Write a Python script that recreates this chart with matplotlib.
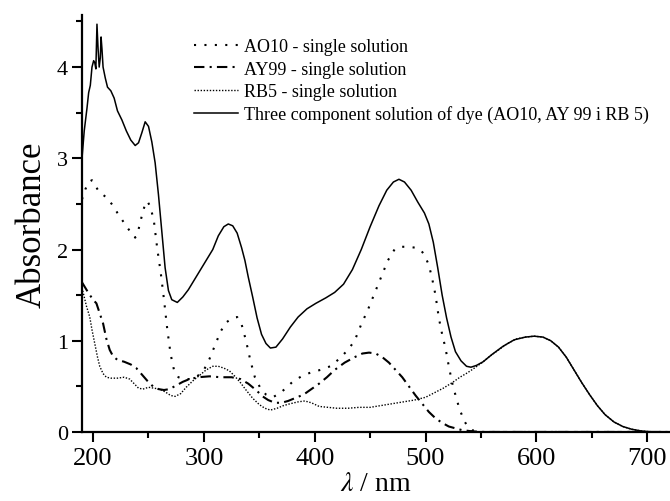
import matplotlib
matplotlib.use("Agg")
import matplotlib.pyplot as plt

plt.rcParams['font.family'] = ['Liberation Serif', 'DejaVu Serif']
plt.rcParams['mathtext.fontset'] = 'stix'

# Three component solution
mix_x = [190, 192, 194.5, 196, 197.5, 199, 200.5, 201.5, 202.5, 203.5, 204.5, 205.5, 206.5, 207.2, 208, 209,
         211, 213, 216, 219, 222, 226, 230, 234, 238, 241, 244, 247, 250, 253, 256, 259, 262, 265, 268, 271,
         276, 281, 286, 290, 298, 304, 308, 313, 318, 322, 326, 330, 334, 337, 340, 344, 348, 352, 356, 360,
         365, 371, 378, 385, 393, 401, 410, 418, 426, 434, 442, 450, 458, 465, 471, 476, 481, 487, 493, 499,
         503, 507, 511, 515, 519, 523, 527, 532, 537, 541, 546, 552, 560, 570, 580, 590, 598, 606, 613, 620,
         627, 634, 641, 648, 655, 662, 670, 678, 686, 695, 705, 720]
mix_y = [3.0, 3.3, 3.55, 3.72, 3.8, 4.0, 4.07, 4.05, 3.98, 4.47, 4.2, 4.0, 4.1, 4.33, 4.2, 4.0,
         3.88, 3.78, 3.74, 3.66, 3.52, 3.42, 3.3, 3.2, 3.14, 3.17, 3.28, 3.4, 3.35, 3.18, 2.95, 2.6, 2.2, 1.8, 1.55, 1.45,
         1.42, 1.48, 1.56, 1.64, 1.8, 1.92, 2.0, 2.15, 2.25, 2.28, 2.26, 2.18, 2.02, 1.88, 1.7, 1.48, 1.25, 1.07, 0.97, 0.92,
         0.93, 1.02, 1.15, 1.26, 1.35, 1.41, 1.47, 1.53, 1.62, 1.78, 2.0, 2.25, 2.48, 2.65, 2.74, 2.77, 2.74, 2.65, 2.52, 2.4,
         2.28, 2.08, 1.8, 1.5, 1.25, 1.04, 0.88, 0.78, 0.72, 0.71, 0.73, 0.77, 0.85, 0.94, 1.01, 1.04, 1.05, 1.04, 1.0, 0.93,
         0.82, 0.68, 0.54, 0.41, 0.29, 0.19, 0.11, 0.06, 0.03, 0.01, 0.0, 0.0]

# AO10 single solution
ao_x = [190, 193, 196, 199, 202, 205, 209, 213, 218, 222, 227, 231, 235, 238, 241, 244, 247, 249, 252, 255,
        258, 261, 264, 267, 270, 273, 277, 282, 288, 294, 300, 305, 310, 315, 320, 326, 330, 334, 338, 342,
        346, 351, 356, 362, 368, 374, 380, 388, 396, 405, 414, 422, 430, 436, 442, 448, 454, 460, 466, 472,
        477, 484, 491, 496, 499, 503, 506, 509, 512, 515, 518, 521, 524, 528, 531, 535, 538, 542, 550, 720]
ao_y = [2.55, 2.66, 2.74, 2.76, 2.7, 2.64, 2.6, 2.56, 2.48, 2.4, 2.31, 2.24, 2.17, 2.13, 2.22, 2.37, 2.5, 2.53, 2.46, 2.3,
        2.0, 1.75, 1.45, 1.12, 0.85, 0.68, 0.6, 0.58, 0.58, 0.61, 0.68, 0.8, 0.95, 1.1, 1.2, 1.25, 1.26, 1.18, 1.0, 0.78,
        0.6, 0.48, 0.41, 0.38, 0.42, 0.48, 0.55, 0.61, 0.65, 0.68, 0.72, 0.8, 0.9, 1.0, 1.18, 1.34, 1.52, 1.7, 1.88, 2.0,
        2.03, 2.03, 2.02, 1.99, 1.94, 1.83, 1.68, 1.5, 1.25, 1.07, 0.92, 0.72, 0.54, 0.36, 0.24, 0.12, 0.06, 0.02, 0.0, 0.0]

# AY99 single solution
ay_x = [190, 193, 196, 200, 203, 206, 209, 212, 215, 218, 222, 228, 234, 239, 244, 249, 254, 259, 264, 269,
        275, 281, 287, 295, 305, 315, 325, 333, 340, 347, 353, 358, 364, 370, 376, 382, 390, 397, 404, 411,
        418, 427, 436, 443, 449, 455, 461, 467, 473, 479, 485, 491, 497, 503, 509, 515, 521, 527, 533, 540, 550, 720]
ay_y = [1.64, 1.58, 1.52, 1.45, 1.41, 1.3, 1.19, 1.02, 0.9, 0.83, 0.79, 0.77, 0.74, 0.7, 0.63, 0.56, 0.5, 0.47, 0.46, 0.47,
        0.51, 0.55, 0.58, 0.6, 0.61, 0.6, 0.6, 0.58, 0.53, 0.46, 0.39, 0.35, 0.32, 0.32, 0.34, 0.37, 0.41, 0.47, 0.53, 0.6,
        0.68, 0.76, 0.82, 0.86, 0.87, 0.86, 0.82, 0.76, 0.68, 0.6, 0.5, 0.4, 0.31, 0.22, 0.15, 0.1, 0.06, 0.04, 0.02, 0.01, 0.0, 0.0]

# RB5 single solution
rb_x = [190, 192, 194, 197, 199, 201.5, 204, 206, 209, 212, 216, 222, 228, 233, 237, 241, 245, 250, 255, 260,
        265, 270, 274, 279, 284, 290, 296, 302, 308, 313, 318, 323, 328, 333, 338, 344, 350, 355, 360, 366,
        372, 378, 385, 391, 397, 404, 412, 420, 430, 440, 450, 460, 470, 480, 490, 500, 508, 516, 524, 531,
        538, 544, 551, 558, 566, 574, 582, 590, 598, 606, 613, 620, 627, 634, 641, 648, 655, 662, 670, 678,
        686, 695, 705, 720]
rb_y = [1.58, 1.48, 1.38, 1.26, 1.12, 0.97, 0.82, 0.72, 0.64, 0.6, 0.59, 0.59, 0.6, 0.58, 0.53, 0.48, 0.47, 0.49, 0.48, 0.47,
        0.44, 0.4, 0.39, 0.42, 0.49, 0.56, 0.62, 0.68, 0.72, 0.72, 0.7, 0.67, 0.61, 0.54, 0.46, 0.37, 0.3, 0.26, 0.24, 0.26,
        0.29, 0.31, 0.33, 0.34, 0.32, 0.28, 0.27, 0.26, 0.26, 0.27, 0.27, 0.29, 0.31, 0.33, 0.35, 0.38, 0.43, 0.48, 0.54, 0.6,
        0.65, 0.7, 0.76, 0.83, 0.9, 0.97, 1.02, 1.04, 1.05, 1.04, 1.0, 0.93, 0.82, 0.68, 0.54, 0.41, 0.29, 0.19, 0.11, 0.06,
        0.03, 0.01, 0.0, 0.0]

labels = ["AO10 - single solution", "AY99 - single solution", "RB5 - single solution",
          "Three component solution of dye (AO10, AY 99 i RB 5)"]
x_ticks = [200, 300, 400, 500, 600, 700]
y_ticks = [0, 1, 2, 3, 4]

fig = plt.figure(figsize=(6.7, 5.02), dpi=100)
ax = fig.add_axes([0.1224, 0.1375, 0.8766, 0.8305])

ax.plot(ao_x, ao_y, color='black', lw=1.5, linestyle=(0, (1, 4)), label=labels[0])
ax.plot(ay_x, ay_y, color='black', lw=1.5, linestyle=(0, (5, 2.5, 1, 2.5)), label=labels[1])
ax.plot(rb_x, rb_y, color='black', lw=1.0, linestyle=(0, (1, 1.2)), label=labels[2])
ax.plot(mix_x, mix_y, color='black', lw=1.1, linestyle='-', label=labels[3])

ax.set_xlim(190, 720)
ax.set_ylim(0, 4.57)
ax.set_xticks(x_ticks)
ax.set_yticks(y_ticks)
ax.set_xticks([250, 350, 450, 550, 650], minor=True)
ax.set_yticks([0.5, 1.5, 2.5, 3.5, 4.5], minor=True)
ax.tick_params(axis='x', which='major', labelsize=19, length=7, width=1.5, direction='out', pad=4)
ax.tick_params(axis='y', which='major', labelsize=16, length=7, width=1.5, direction='out', pad=3)
ax.tick_params(which='minor', length=4, width=1.5, direction='out')

for s in ['top', 'right']:
    ax.spines[s].set_visible(False)
for s in ['left', 'bottom']:
    ax.spines[s].set_linewidth(1.6)

ax.set_xlabel(r'$\lambda$ / nm', fontsize=20, labelpad=1)
ax.set_ylabel('Absorbance', fontsize=25, labelpad=6)

leg = ax.legend(loc='upper left', bbox_to_anchor=(0.29, 0.922), bbox_transform=fig.transFigure,
                frameon=False, fontsize=13, handlelength=2.4, handletextpad=0.35,
                labelspacing=0.3, borderpad=0, borderaxespad=0)

fig.savefig('out.png', dpi=100)
